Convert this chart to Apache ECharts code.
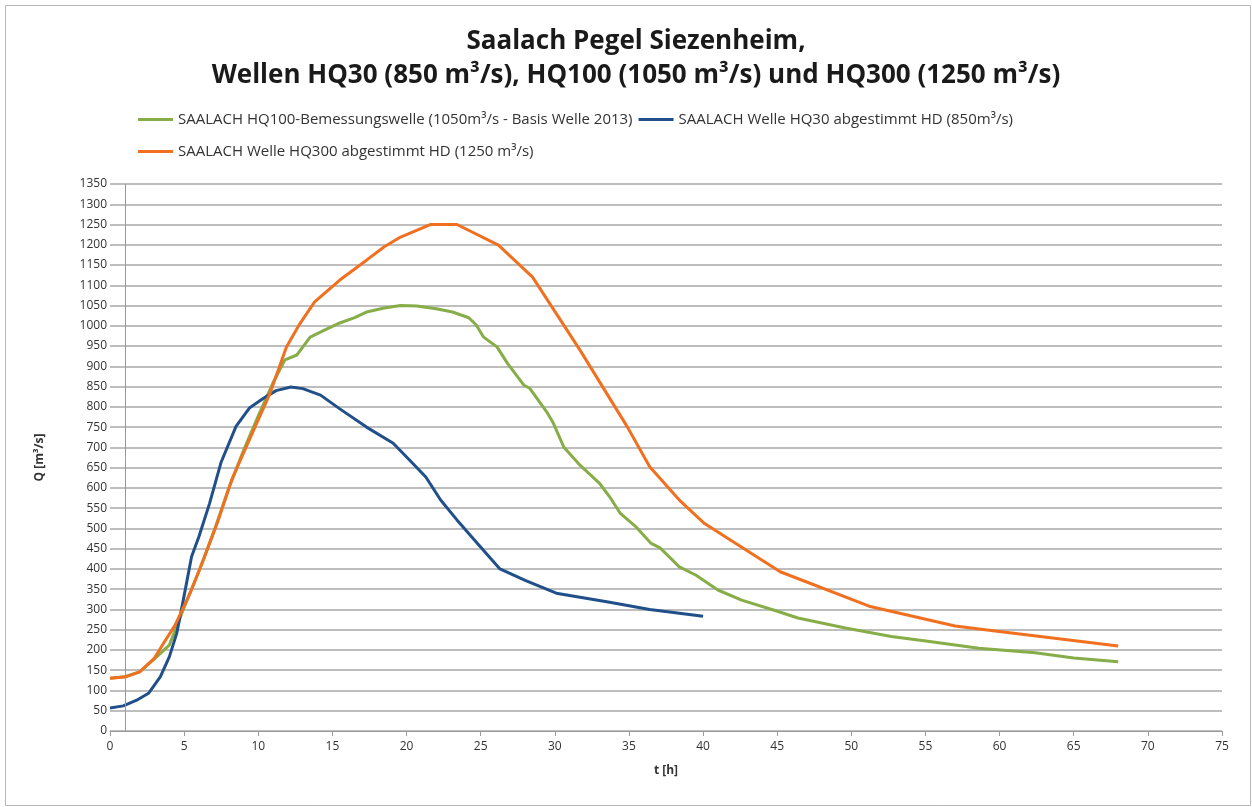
<!DOCTYPE html>
<html>
<head>
<meta charset="utf-8">
<script src="https://cdn.jsdelivr.net/npm/echarts@6/dist/echarts.min.js"></script>
<style>
  html, body { margin: 0; padding: 0; background: #fff; }
  #main { width: 1252px; height: 807px; }
</style>
</head>
<body>
<div id="main"></div>
<script>
// Namen der Wellen
var nameHQ100 = 'SAALACH HQ100-Bemessungswelle (1050m³/s - Basis Welle 2013)';
var nameHQ30 = 'SAALACH Welle HQ30 abgestimmt HD (850m³/s)';
var nameHQ300 = 'SAALACH Welle HQ300 abgestimmt HD (1250 m³/s)';

// HQ100 (grün)
var tHQ100 = [0, 1, 2, 3, 4, 5, 6, 7, 8, 9, 10, 11, 11.8, 12.6, 13.5, 14.5, 15.5, 16.5, 17.3, 18.5, 19.6, 20.7, 22, 23.1, 24.2, 24.7, 25.2, 26.1, 26.8, 27.9, 28.3, 29.5, 29.9, 30.6, 31.7, 33.0, 33.7, 34.4, 35.5, 36.5, 37.1, 38.4, 39.5, 41.0, 42.6, 44.8, 46.4, 49.6, 52.7, 55.4, 58.6, 62.4, 65.0, 68.0];
var qHQ100 = [130, 134, 146, 178, 212, 305, 395, 492, 598, 692, 778, 860, 916, 928, 972, 990, 1007, 1020, 1034, 1044, 1050, 1049, 1042, 1034, 1020, 1002, 972, 948, 908, 854, 846, 785, 760, 701, 656, 612, 578, 538, 503, 463, 452, 405, 385, 348, 323, 298, 279, 254, 233, 220, 204, 193, 180, 171];

// HQ30 (blau)
var tHQ30 = [0, 0.9, 1.8, 2.6, 3.4, 4.0, 4.5, 4.9, 5.5, 6.0, 6.7, 7.5, 8.5, 9.4, 10.3, 11.2, 12.2, 13.0, 14.2, 15.5, 17.3, 19.1, 20.2, 21.3, 22.3, 23.4, 24.8, 26.3, 28.0, 30.1, 33.7, 36.4, 40];
var qHQ30 = [57, 62, 76, 93, 134, 183, 241, 315, 430, 480, 560, 664, 752, 797, 820, 840, 849, 845, 829, 795, 750, 710, 669, 627, 570, 521, 462, 400, 372, 340, 318, 300, 283];

// HQ300 (orange)
var tHQ300 = [0, 1.1, 2.0, 3.0, 3.6, 4.4, 5.4, 6.3, 7.3, 8.2, 8.8, 9.8, 10.8, 11.9, 12.8, 13.8, 15.5, 17.3, 18.5, 19.6, 21.6, 23.4, 26.2, 28.5, 31.7, 34.9, 36.4, 38.4, 40.1, 45.2, 51.2, 57.0, 59.7, 68];
var qHQ300 = [130, 134, 146, 180, 216, 262, 340, 422, 520, 619, 669, 752, 834, 948, 1005, 1059, 1113, 1162, 1195, 1219, 1250, 1250, 1199, 1120, 940, 750, 652, 570, 512, 393, 308, 259, 247, 210];

function pairs(t, q) {
  var out = [];
  for (var i = 0; i < t.length; i++) {
    out.push([t[i], q[i]]);
  }
  return out;
}

var chart = echarts.init(document.getElementById('main'));
var font = 'Open Sans, Liberation Sans, sans-serif';

var option = {
  backgroundColor: '#ffffff',
  animation: false,
  title: {
    text: 'Saalach Pegel Siezenheim,\nWellen HQ30 (850 m³/s), HQ100 (1050 m³/s) und HQ300 (1250 m³/s)',
    left: 631,
    textAlign: 'center',
    top: 20,
    textStyle: {
      fontFamily: font,
      fontSize: 26,
      fontWeight: 'bold',
      color: '#1a1a1a',
      lineHeight: 34
    }
  },
  legend: [
    {
      data: [nameHQ100, nameHQ30],
      left: 138,
      top: 112,
      padding: 0,
      icon: 'rect',
      itemWidth: 35,
      itemHeight: 3,
      itemGap: 6,
      textStyle: { fontFamily: font, fontSize: 15, color: '#333' }
    },
    {
      data: [nameHQ300],
      left: 138,
      top: 144,
      padding: 0,
      icon: 'rect',
      itemWidth: 35,
      itemHeight: 3,
      textStyle: { fontFamily: font, fontSize: 15, color: '#333' }
    }
  ],
  grid: {
    left: 110,
    right: 30,
    top: 184,
    bottom: 76
  },
  xAxis: {
    type: 'value',
    min: 0,
    max: 75,
    interval: 5,
    name: 't [h]',
    nameLocation: 'middle',
    nameGap: 34,
    nameTextStyle: { fontFamily: font, fontSize: 12, fontWeight: 'bold', color: '#333' },
    axisLine: { show: true, lineStyle: { color: '#9a9a9a', width: 1 } },
    axisTick: { show: true, length: 5, lineStyle: { color: '#9a9a9a' } },
    axisLabel: { fontFamily: font, fontSize: 12, color: '#333', margin: 10 },
    splitLine: { show: false }
  },
  yAxis: {
    type: 'value',
    min: 0,
    max: 1350,
    interval: 50,
    name: 'Q [m³/s]',
    nameLocation: 'middle',
    nameGap: 64,
    nameRotate: 90,
    nameTextStyle: { fontFamily: font, fontSize: 12, fontWeight: 'bold', color: '#333' },
    axisLine: { show: false },
    axisTick: { show: false },
    axisLabel: {
      fontFamily: font,
      fontSize: 12,
      color: '#333',
      margin: 3,
      formatter: function (v) { return String(v); }
    },
    splitLine: { show: true, lineStyle: { color: '#a8a8a8', width: 1.5 } }
  },
  graphic: [
    {
      type: 'rect',
      left: 3,
      top: 3,
      shape: { width: 1245, height: 800 },
      style: { fill: 'none', stroke: '#b8b8b8', lineWidth: 1 },
      silent: true
    }
  ],
  series: [
    {
      name: nameHQ100,
      type: 'line',
      data: pairs(tHQ100, qHQ100),
      showSymbol: false,
      symbol: 'none',
      lineStyle: { color: '#87ad48', width: 3 },
      itemStyle: { color: '#87ad48' },
      z: 3,
      markLine: {
        silent: true,
        symbol: 'none',
        label: { show: false },
        lineStyle: { color: '#9a9a9a', width: 1, type: 'solid' },
        data: [{ xAxis: 1 }]
      }
    },
    {
      name: nameHQ30,
      type: 'line',
      data: pairs(tHQ30, qHQ30),
      showSymbol: false,
      symbol: 'none',
      lineStyle: { color: '#204f8a', width: 3 },
      itemStyle: { color: '#204f8a' },
      z: 4
    },
    {
      name: nameHQ300,
      type: 'line',
      data: pairs(tHQ300, qHQ300),
      showSymbol: false,
      symbol: 'none',
      lineStyle: { color: '#f07020', width: 3 },
      itemStyle: { color: '#f07020' },
      z: 5
    }
  ]
};

chart.setOption(option);
</script>
</body>
</html>
